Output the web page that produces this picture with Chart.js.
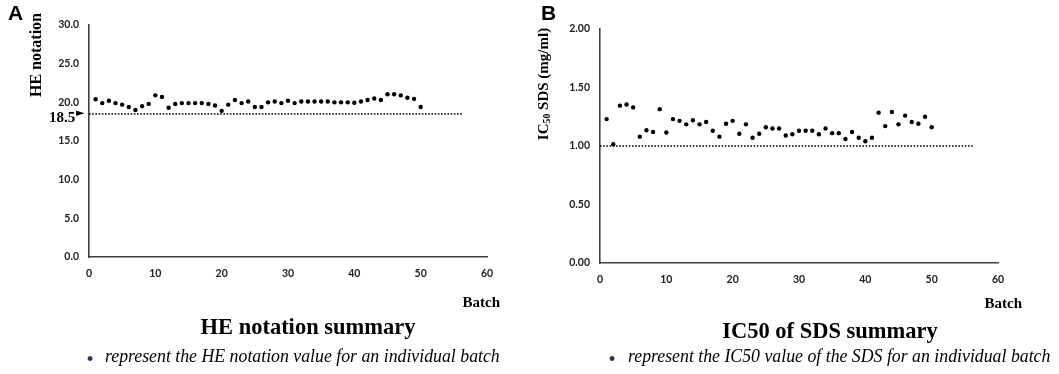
<!DOCTYPE html>
<html>
<head>
<meta charset="utf-8">
<script src="https://cdn.jsdelivr.net/npm/chart.js@4.4.0/dist/chart.umd.min.js"></script>
<style>
  body { margin: 0; background: #fff; width: 1059px; height: 374px; position: relative; overflow: hidden; font-family: "Liberation Serif", "Times New Roman", serif; color: #000; }
  .box { position: absolute; top: 0; height: 300px; }
  #boxA { left: 0; width: 530px; }
  #boxB { left: 530px; width: 529px; }
  .t { position: absolute; white-space: nowrap; line-height: 1; }
  .panel { font-family: "Liberation Sans", Arial, sans-serif; font-weight: bold; font-size: 21px; }
  .ytitle { font-weight: bold; transform: translate(-50%, -50%) rotate(-90deg); }
  .batch { font-weight: bold; font-size: 15px; transform: translate(-100%, -50%); }
  .title { font-weight: bold; font-size: 22.5px; transform: translate(-50%, -50%); }
  .note { font-style: italic; font-size: 17.8px; transform: translateY(-50%); }
  .dot { color: #1f3864; font-size: 20px; transform: translate(-50%, -50%); }
  sub { font-size: 65%; vertical-align: -2px; }
</style>
</head>
<body>
<div class="box" id="boxA"><canvas id="chartA"></canvas></div>
<div class="box" id="boxB"><canvas id="chartB"></canvas></div>

<div class="t panel" style="left:8px;top:2px">A</div>
<div class="t ytitle" style="left:36px;top:55px;font-size:16px">HE notation</div>
<div class="t" style="left:49px;top:110px;font-weight:bold;font-size:15px">18.5</div>
<div class="t" style="left:76px;top:107px;font-family:'DejaVu Sans';font-size:11px">&#9658;</div>
<div class="t batch" style="left:500px;top:302px">Batch</div>
<div class="t title" style="left:308px;top:327px">HE notation summary</div>
<div class="t dot" style="left:90px;top:359px">&#8226;</div>
<div class="t note" style="left:105px;top:357px">represent the HE notation value for an individual batch</div>

<div class="t panel" style="left:541px;top:2px">B</div>
<div class="t ytitle" style="left:544px;top:84px;font-size:15px">IC<sub>50</sub> SDS (mg/ml)</div>
<div class="t batch" style="left:1022px;top:303px">Batch</div>
<div class="t title" style="left:830px;top:331px">IC50 of SDS summary</div>
<div class="t dot" style="left:612px;top:359px">&#8226;</div>
<div class="t note" style="left:628px;top:357px">represent the IC50 value of the SDS for an individual batch</div>

<script>
const batches = [1, 2, 3, 4, 5, 6, 7, 8, 9, 10, 11, 12, 13, 14, 15, 16, 17, 18, 19, 20,
  21, 22, 23, 24, 25, 26, 27, 28, 29, 30, 31, 32, 33, 34, 35, 36, 37, 38, 39, 40,
  41, 42, 43, 44, 45, 46, 47, 48, 49, 50];

const heNotation = [20.4, 19.9, 20.2, 19.9, 19.7, 19.4, 19.0, 19.5, 19.8, 20.9,
  20.7, 19.3, 19.8, 19.9, 19.9, 19.9, 19.9, 19.8, 19.6, 18.9,
  19.7, 20.3, 19.9, 20.1, 19.4, 19.4, 20.0, 20.1, 19.9, 20.2,
  19.9, 20.1, 20.1, 20.1, 20.1, 20.1, 20.0, 20.0, 20.0, 19.95,
  20.1, 20.3, 20.5, 20.3, 21.05, 21.05, 20.9, 20.6, 20.45, 19.4];

const ic50Sds = [1.23, 1.015, 1.345, 1.355, 1.33, 1.08, 1.135, 1.12, 1.315, 1.115,
  1.23, 1.215, 1.185, 1.22, 1.185, 1.205, 1.13, 1.08, 1.19, 1.215,
  1.105, 1.185, 1.07, 1.105, 1.16, 1.15, 1.15, 1.09, 1.10, 1.13,
  1.13, 1.13, 1.10, 1.15, 1.11, 1.11, 1.06, 1.12, 1.07, 1.04,
  1.07, 1.285, 1.17, 1.29, 1.185, 1.26, 1.205, 1.19, 1.25, 1.16];

// dotted limit lines run from the axis to about batch 56
const limitSpan = [0, 56.3];
const heLimit = [18.5, 18.5];
const ic50Limit = [1.0, 1.0];

const xTicks = [0, 10, 20, 30, 40, 50, 60];
const heTicks = [0, 5, 10, 15, 20, 25, 30];
const ic50Ticks = [0, 0.5, 1, 1.5, 2];

const tickFont = { family: 'Lato', size: 10.5, weight: 'bold' };

function makeChart(id, values, limit, yTicks, digits, layout) {
  const pts = batches.map((b, i) => ({ x: b, y: values[i] }));
  const line = limitSpan.map((x, i) => ({ x, y: limit[i] }));
  return new Chart(document.getElementById(id), {
    type: 'scatter',
    data: {
      datasets: [
        { data: line, showLine: true, borderColor: '#000', borderWidth: 1.6,
          borderDash: [1.6, 1.6], pointRadius: 0, fill: false },
        { data: pts, backgroundColor: '#000', borderColor: '#000',
          pointRadius: 2.2, pointBorderWidth: 0 }
      ]
    },
    options: {
      responsive: true,
      maintainAspectRatio: false,
      animation: false,
      layout: { padding: layout.padding },
      plugins: { legend: { display: false }, tooltip: { enabled: false } },
      scales: {
        x: {
          type: 'linear', min: 0, max: 60,
          afterBuildTicks: s => { s.ticks = xTicks.map(v => ({ value: v })); },
          afterFit: s => { s.height = layout.xh; },
          grid: { display: false, drawTicks: false },
          border: { display: true, color: '#404040', width: 1.6 },
          ticks: { padding: 10, color: '#222', font: tickFont }
        },
        y: {
          type: 'linear', min: yTicks[0], max: yTicks[yTicks.length - 1],
          afterBuildTicks: s => { s.ticks = yTicks.map(v => ({ value: v })); },
          afterFit: s => { s.width = layout.yw; },
          grid: { display: false, drawTicks: false },
          border: { display: true, color: '#404040', width: 1.6 },
          ticks: { padding: 10, color: '#222', font: tickFont,
            callback: v => v.toFixed(digits) }
        }
      }
    }
  });
}

makeChart('chartA', heNotation, heLimit, heTicks, 1,
  { padding: { top: 25, right: 43, bottom: 0, left: 0 }, yw: 89, xh: 43 });
makeChart('chartB', ic50Sds, ic50Limit, ic50Ticks, 2,
  { padding: { top: 29, right: 61, bottom: 0, left: 0 }, yw: 70, xh: 37 });
</script>
</body>
</html>
